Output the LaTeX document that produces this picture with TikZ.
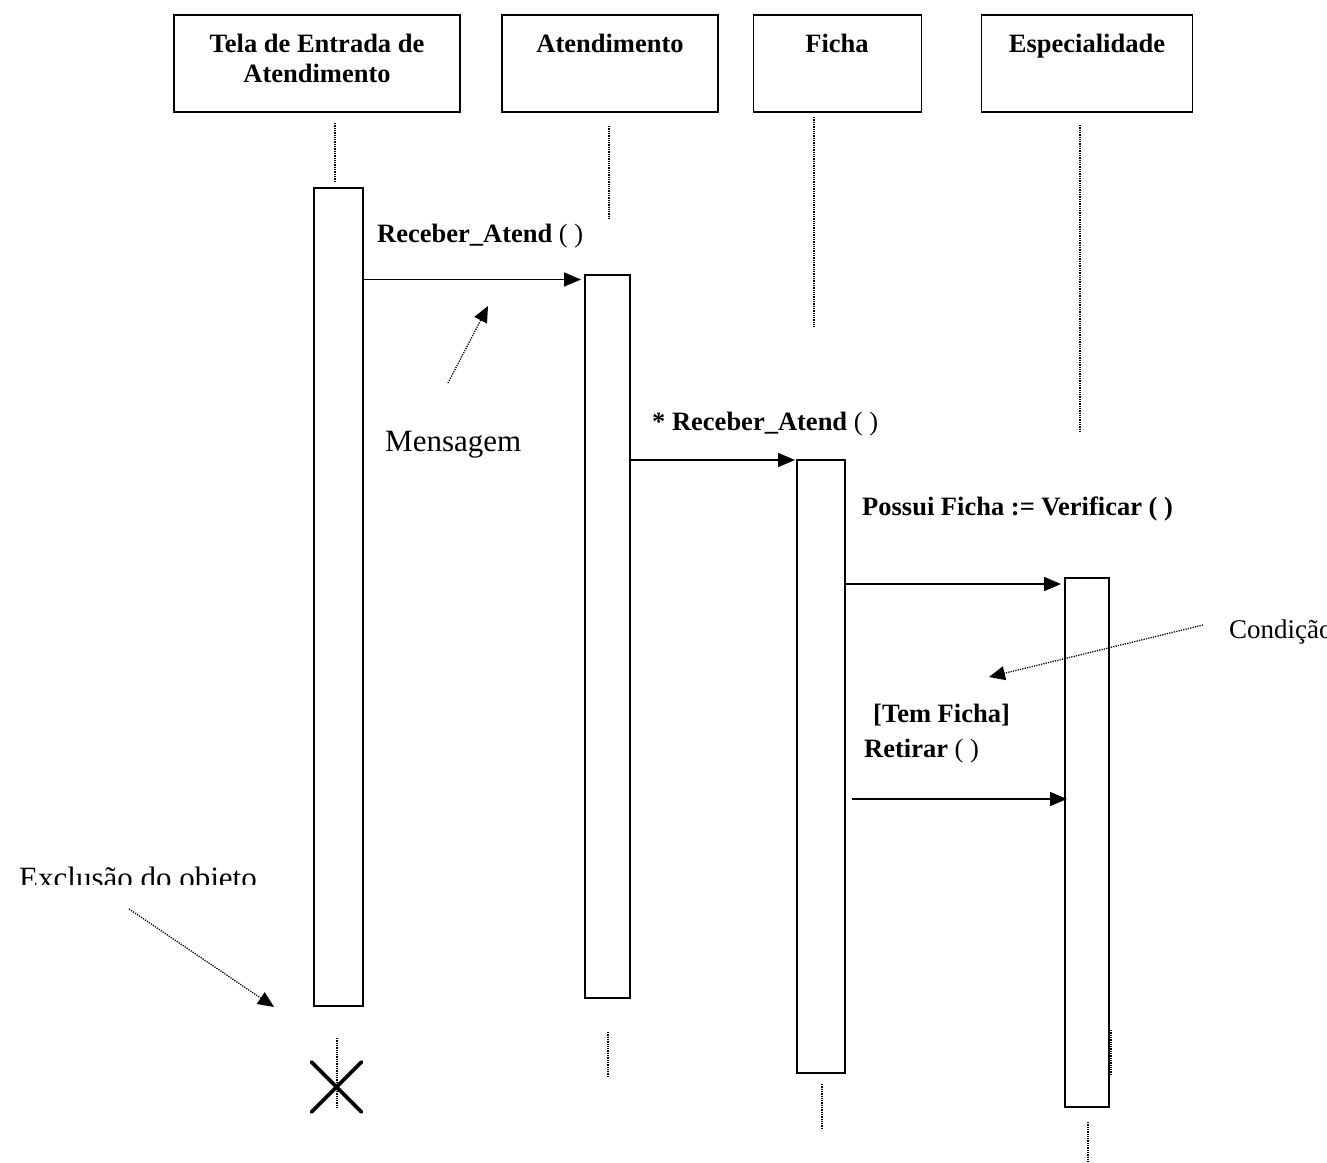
\documentclass[tikz,border=0pt]{standalone}
\usepackage{fontspec}
\setmainfont{Liberation Serif}
\usetikzlibrary{arrows.meta}
\tikzset{
  objbox/.style={draw, line width=1.6pt, inner sep=0pt, outer sep=0pt},
  actbox/.style={draw, line width=1.6pt, inner sep=0pt, outer sep=0pt, fill=white},
  titletext/.style={font=\fontsize{26.5}{30}\selectfont\bfseries, inner sep=0pt, anchor=base},
  msglabel/.style={font=\fontsize{26.5}{30}\selectfont\bfseries, inner sep=0pt, anchor=base west},
  notetext/.style={font=\fontsize{31}{36}\selectfont, inner sep=0pt},
  msgarrow/.style={line width=1.6pt, -{Triangle[length=17pt,width=14pt]}},
  pointer/.style={line width=1.3pt, dash pattern=on 1.2pt off 1.2pt, -{Triangle[length=16pt,width=14pt]}},
  lifeline/.style={line width=1.3pt, dash pattern=on 1.3pt off 1pt},
  xmark/.style={line width=3.8pt, line cap=round}
}
\begin{document}
\begin{tikzpicture}[x=1pt, y=-1pt]
\useasboundingbox (0,0) rectangle (1327,1162);
\fill[white] (0,0) rectangle (1327,1162);

% object boxes
\node[objbox, minimum width=286pt, minimum height=97pt] (o1) at (317,63.5) {};
\node[objbox, minimum width=216pt, minimum height=97pt] (o2) at (610,63.5) {};
\node[objbox, minimum width=168pt, minimum height=97pt] (o3) at (837.5,63.5) {};
\node[objbox, minimum width=211pt, minimum height=97pt] (o4) at (1087,63.5) {};

\node[titletext] (t1a) at (317,52) {Tela de Entrada de};
\node[titletext] (t1b) at (317,82) {Atendimento};
\node[titletext] (t2) at (610,52) {Atendimento};
\node[titletext] (t3) at (837,52) {Ficha};
\node[titletext] (t4) at (1087,52) {Especialidade};

% lifelines
\draw[lifeline] (335,123) -- (335,181);
\draw[lifeline] (337,1038) -- (337,1108);
\draw[lifeline] (609,126) -- (609,219);
\draw[lifeline] (608,1032) -- (608,1077);
\draw[lifeline] (814,117) -- (814,327);
\draw[lifeline] (822,1084) -- (822,1130);
\draw[lifeline] (1080,125) -- (1080,431);
\draw[lifeline] (1088,1122) -- (1088,1162);

% activation boxes
\node[actbox, minimum width=49pt, minimum height=818pt] (a1) at (338.5,597) {};
\node[actbox, minimum width=45pt, minimum height=723pt] (a2) at (607.5,636.5) {};
\node[actbox, minimum width=48pt, minimum height=613pt] (a3) at (821,766.5) {};
\node[actbox, minimum width=44pt, minimum height=529pt] (a4) at (1087,842.5) {};
\draw[lifeline] (1111,1030) -- (1111,1076);

% messages
\coordinate (m1s) at (364,279.5);
\coordinate (m1e) at (581,279.5);
\draw[msgarrow] (m1s) -- (m1e);
\node[msglabel] (l1) at (377,242) {Receber\_Atend \mdseries( )};

\coordinate (m2s) at (630,460);
\coordinate (m2e) at (795,460);
\draw[msgarrow] (m2s) -- (m2e);
\node[msglabel] (l2) at (652,430.5) {* Receber\_Atend \mdseries( )};

\coordinate (m3s) at (845,584);
\coordinate (m3e) at (1061,584);
\draw[msgarrow] (m3s) -- (m3e);
\node[msglabel] (l3) at (862,515) {Possui Ficha := Verificar ( )};

\coordinate (m4s) at (852,799);
\coordinate (m4e) at (1067,799);
\draw[msgarrow] (m4s) -- (m4e);
\node[msglabel] (l4a) at (873,722) {[Tem Ficha]};
\node[msglabel] (l4b) at (864,757) {Retirar \mdseries( )};

% annotations
\node[notetext, anchor=base west] (n1) at (385,451) {Mensagem};
\coordinate (p1s) at (448,383);
\coordinate (p1e) at (488,306);
\draw[pointer] (p1s) -- (p1e);

\node[font=\fontsize{27}{32}\selectfont, inner sep=0pt, anchor=base west] (n2) at (1229,638) {Condição};
\coordinate (p2s) at (1203,625);
\coordinate (p2e) at (989,677);
\draw[pointer] (p2s) -- (p2e);

\begin{scope}
\clip (0,0) rectangle (1327,884);
\node[notetext, anchor=base east] (n3) at (257,888) {Exclusão do objeto};
\end{scope}
\coordinate (p3s) at (129,909);
\coordinate (p3e) at (274,1007);
\draw[pointer] (p3s) -- (p3e);

% object destruction
\coordinate (xc) at (336.5,1087);
\draw[xmark] ([shift={(-25,-25)}]xc) -- ([shift={(25,25)}]xc);
\draw[xmark] ([shift={(-25,25)}]xc) -- ([shift={(25,-25)}]xc);
\end{tikzpicture}
\end{document}
